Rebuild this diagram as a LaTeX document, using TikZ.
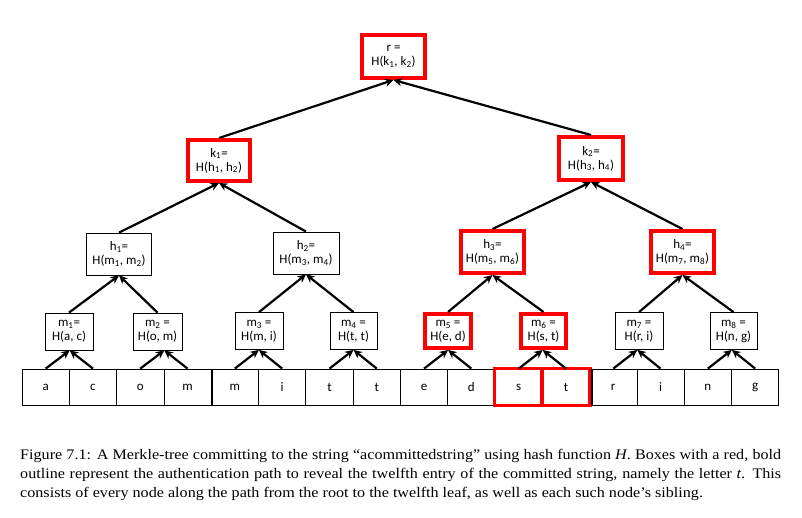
\documentclass[tikz,border=0pt]{standalone}
\usepackage{fontspec}
\setmainfont{Carlito}
\newfontfamily\capfont[FakeStretch=1.105]{Liberation Serif}
\usetikzlibrary{arrows.meta}
\begin{document}
\begin{tikzpicture}[x=1pt,y=-1pt,
  box/.style={draw=black, line width=0.8pt, inner sep=0pt, align=center,
    font=\fontsize{13}{14}\selectfont, minimum height=37pt, minimum width=48pt},
  redbox/.style={box, draw=red, line width=4pt},
  leaf/.style={draw=black, line width=0.8pt, inner sep=0pt, minimum width=47.3pt,
    minimum height=36pt, font=\fontsize{13}{14}\selectfont},
  arr/.style={line width=2.2pt, -{Stealth[length=8.5pt,width=8pt]}},
  captext/.style={anchor=base west, inner sep=0pt, font=\capfont\fontsize{14.6}{17}\selectfont}]
\useasboundingbox (0,0) rectangle (802,518);
\fill[white] (0,0) rectangle (802,518);

% root and upper levels
\node[redbox, minimum width=63pt, minimum height=43pt] (r) at (393.5,56.5) {r =\\H(k\textsubscript{1}, k\textsubscript{2})};
\node[redbox, minimum width=62pt, minimum height=41pt] (k1) at (219,160.5) {k\textsubscript{1}=\\H(h\textsubscript{1}, h\textsubscript{2})};
\node[redbox, minimum width=64pt, minimum height=43pt] (k2) at (591,158.5) {k\textsubscript{2}=\\H(h\textsubscript{3}, h\textsubscript{4})};
\node[box, minimum width=65pt, minimum height=42pt] (h1) at (119,254) {h\textsubscript{1}=\\H(m\textsubscript{1}, m\textsubscript{2})};
\node[box, minimum width=66pt, minimum height=42pt] (h2) at (306,253) {h\textsubscript{2}=\\H(m\textsubscript{3}, m\textsubscript{4})};
\node[redbox, minimum width=63pt, minimum height=42pt] (h3) at (492.5,252) {h\textsubscript{3}=\\H(m\textsubscript{5}, m\textsubscript{6})};
\node[redbox, minimum width=63pt, minimum height=42pt] (h4) at (682.5,252) {h\textsubscript{4}=\\H(m\textsubscript{7}, m\textsubscript{8})};

% m level
\node[box] (m1) at (69,331.5) {m\textsubscript{1}=\\H(a, c)};
\node[box, minimum width=49pt] (m2) at (157.5,331.5) {m\textsubscript{2} =\\H(o, m)};
\node[box] (m3) at (259,331) {m\textsubscript{3} =\\H(m, i)};
\node[box, minimum width=47pt] (m4) at (353.5,331) {m\textsubscript{4} =\\H(t, t)};
\node[redbox, minimum width=46pt, minimum height=34pt] (m5) at (448,331) {m\textsubscript{5} =\\H(e, d)};
\node[redbox, minimum width=45pt, minimum height=34pt] (m6) at (543.5,331) {m\textsubscript{6} =\\H(s, t)};
\node[box] (m7) at (639,331) {m\textsubscript{7} =\\H(r, i)};
\node[box, minimum width=47pt] (m8) at (733.5,331) {m\textsubscript{8} =\\H(n, g)};

% leaves
\foreach \c [count=\i from 0] in {a,c,o,m,m,i,t,t,e,d,s,t,r,i,n,g}
  \node[leaf] (l\i) at ({22+47.3*(\i+0.5)},387) {\c};
\draw[line width=2pt] (l3.north east) -- (l3.south east);
\draw[red, line width=3.5pt] (l10.north west) rectangle (l10.south east);
\draw[red, line width=3.5pt] (l11.north west) rectangle (l11.south east);
\draw[line width=1.6pt] ([xshift=1.8pt]l11.north east) -- ([xshift=1.8pt]l11.south east);

% arrows leaves -> m
\foreach \p/\a/\b in {1/0/1,2/2/3,3/4/5,4/6/7,5/8/9,6/10/11,7/12/13,8/14/15}{
  \draw[arr] (l\a.north) -- (l\a.east |- m\p.south);
  \draw[arr] (l\b.north) -- (l\a.east |- m\p.south);
}
% arrows m -> h
\draw[arr] (m1.north) -- (h1.south);
\draw[arr] (m2.north) -- (h1.south);
\draw[arr] (m3.north) -- (h2.south);
\draw[arr] (m4.north) -- (h2.south);
\draw[arr] (m5.north) -- (h3.south);
\draw[arr] (m6.north) -- (h3.south);
\draw[arr] (m7.north) -- (h4.south);
\draw[arr] (m8.north) -- (h4.south);
% arrows h -> k
\draw[arr] (h1.north) -- (k1.south);
\draw[arr] (h2.north) -- (k1.south);
\draw[arr] (h3.north) -- (k2.south);
\draw[arr] (h4.north) -- (k2.south);
% arrows k -> r
\draw[arr] (k1.north) -- (r.south);
\draw[arr] (k2.north) -- (r.south);

% caption
\node[captext] (cap1) at (20,459) {\makebox[761pt][s]{Figure 7.1: A Merkle-tree committing to the string “acommittedstring” using hash function \textit{H}. Boxes with a red, bold}};
\node[captext] (cap2) at (20,478) {\makebox[761pt][s]{outline represent the authentication path to reveal the twelfth entry of the committed string, namely the letter \textit{t}. This}};
\node[captext] (cap3) at (20,497) {consists of every node along the path from the root to the twelfth leaf, as well as each such node’s sibling.};
\end{tikzpicture}
\end{document}
